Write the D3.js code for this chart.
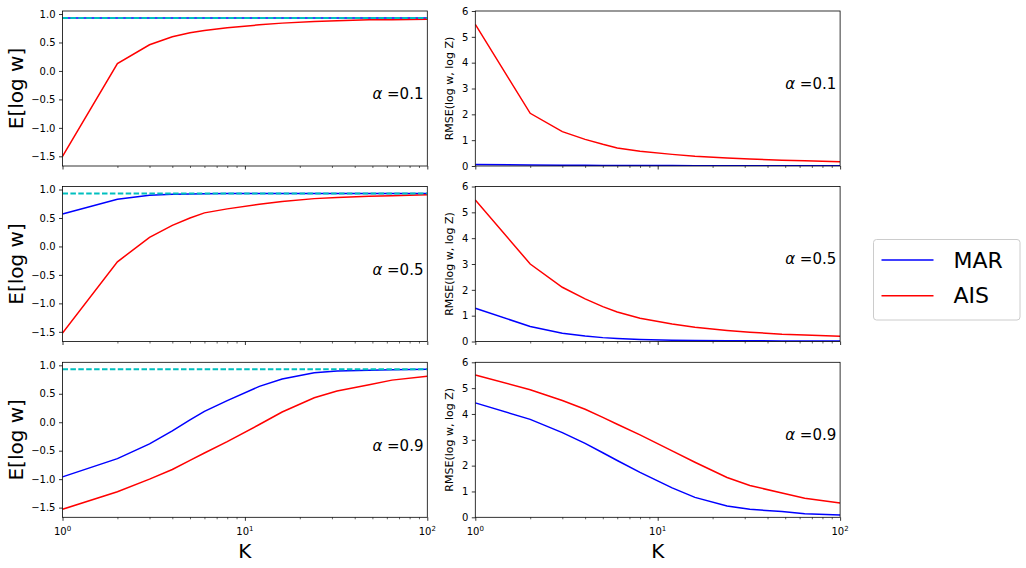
<!DOCTYPE html>
<html>
<head>
<meta charset="utf-8">
<script src="https://cdn.jsdelivr.net/npm/d3@7"></script>
<style>
  body { margin: 0; background: #fff; }
  text { font-family: "DejaVu Sans", sans-serif; }
</style>
</head>
<body>
<svg id="fig" width="1026" height="568"></svg>
<script>
const K = [1, 2, 3, 4, 5, 6, 8, 12, 16, 24, 32, 48, 64, 100];
const logZ = 0.93;
const alphas = ["0.1", "0.5", "0.9"];

// E[log w]
const marMean01 = [0.93, 0.93, 0.93, 0.93, 0.93, 0.93, 0.93, 0.93, 0.93, 0.93, 0.93, 0.93, 0.93, 0.93];
const aisMean01 = [-1.5, 0.13, 0.46, 0.6, 0.67, 0.71, 0.76, 0.81, 0.84, 0.87, 0.88, 0.9, 0.9, 0.91];
const marMean05 = [0.57, 0.83, 0.9, 0.915, 0.92, 0.925, 0.93, 0.93, 0.93, 0.93, 0.93, 0.93, 0.93, 0.93];
const aisMean05 = [-1.52, -0.27, 0.16, 0.37, 0.5, 0.59, 0.66, 0.74, 0.79, 0.84, 0.86, 0.88, 0.89, 0.91];
const marMean09 = [-0.96, -0.64, -0.38, -0.15, 0.04, 0.19, 0.38, 0.63, 0.76, 0.87, 0.9, 0.915, 0.92, 0.93];
const aisMean09 = [-1.53, -1.22, -1.0, -0.83, -0.67, -0.54, -0.34, -0.04, 0.18, 0.43, 0.55, 0.66, 0.74, 0.81];

// RMSE(log w, log Z)
const marRmse01 = [0.06, 0.04, 0.03, 0.03, 0.02, 0.02, 0.02, 0.02, 0.01, 0.01, 0.01, 0.01, 0.01, 0.01];
const aisRmse01 = [5.48, 2.04, 1.33, 1.03, 0.84, 0.7, 0.57, 0.45, 0.38, 0.31, 0.27, 0.22, 0.2, 0.16];
const marRmse05 = [1.29, 0.58, 0.32, 0.21, 0.15, 0.12, 0.08, 0.05, 0.04, 0.03, 0.03, 0.02, 0.02, 0.02];
const aisRmse05 = [5.48, 3.0, 2.1, 1.65, 1.35, 1.14, 0.9, 0.68, 0.55, 0.43, 0.36, 0.28, 0.25, 0.2];
const marRmse09 = [4.43, 3.79, 3.28, 2.86, 2.5, 2.2, 1.74, 1.14, 0.77, 0.44, 0.31, 0.22, 0.14, 0.09];
const aisRmse09 = [5.51, 4.94, 4.52, 4.18, 3.87, 3.6, 3.19, 2.57, 2.13, 1.54, 1.23, 0.94, 0.74, 0.55];

const meanTicks = [1.0, 0.5, 0.0, -0.5, -1.0, -1.5];
const rmseTicks = [0, 1, 2, 3, 4, 5, 6];
const xMajor = [1, 10, 100];
const xMinor = [2, 3, 4, 5, 6, 7, 8, 9, 20, 30, 40, 50, 60, 70, 80, 90];

const meanRows = [[marMean01, aisMean01], [marMean05, aisMean05], [marMean09, aisMean09]];
const rmseRows = [[marRmse01, aisRmse01], [marRmse05, aisRmse05], [marRmse09, aisRmse09]];

const svg = d3.select("#fig");
const rowTop = [11, 186.5, 362.3];
const panelH = 155;
const colLeft = [62.5, 475.3];
const panelW = 364.8;

const BLUE = "#0000ff", RED = "#ff0000", CYAN = "#00bfbf";

function fmtMinus(v) {
  return d3.format(".1f")(v).replace("-", "\u2212");
}

function drawPanel(row, col) {
  const x0 = colLeft[col], y0 = rowTop[row];
  const g = svg.append("g").attr("transform", `translate(${x0},${y0})`);
  const x = d3.scaleLog().domain([1, 100]).range([0, panelW]);
  const y = col === 0
    ? d3.scaleLinear().domain([-1.67, 1.053]).range([panelH, 0])
    : d3.scaleLinear().domain([0, 6]).range([panelH, 0]);
  const series = col === 0 ? meanRows[row] : rmseRows[row];

  const clipId = `clip${row}${col}`;
  g.append("clipPath").attr("id", clipId)
    .append("rect").attr("width", panelW).attr("height", panelH);
  const plot = g.append("g").attr("clip-path", `url(#${clipId})`);

  const line = d3.line().x((d, i) => x(K[i])).y(d => y(d));
  plot.append("path").datum(series[0]).attr("d", line)
    .attr("fill", "none").attr("stroke", BLUE).attr("stroke-width", 1.5);
  plot.append("path").datum(series[1]).attr("d", line)
    .attr("fill", "none").attr("stroke", RED).attr("stroke-width", 1.5);
  if (col === 0) {
    plot.append("path").datum([1, 100])
      .attr("d", d3.line().x(d => x(d)).y(() => y(logZ)))
      .attr("fill", "none").attr("stroke", CYAN).attr("stroke-width", 2)
      .attr("stroke-dasharray", "5.5,2.4");
  }

  // frame
  g.append("rect").attr("width", panelW).attr("height", panelH)
    .attr("fill", "none").attr("stroke", "#000").attr("stroke-width", 0.8);

  // y axis
  const yAxis = d3.axisLeft(y).tickValues(col === 0 ? meanTicks : rmseTicks)
    .tickSize(3.5).tickPadding(3.5)
    .tickFormat(col === 0 ? fmtMinus : d3.format("d"));
  const ya = g.append("g").call(yAxis);
  ya.select(".domain").remove();
  ya.selectAll("line").attr("stroke-width", 0.8);
  ya.selectAll("text").attr("font-size", 10).attr("fill", "#000")
    .attr("font-family", "DejaVu Sans");

  // x axis
  const xa = g.append("g").attr("transform", `translate(0,${panelH})`)
    .call(d3.axisBottom(x).tickValues(xMajor).tickSize(3.5).tickFormat(""));
  xa.select(".domain").remove();
  xa.selectAll("line").attr("stroke-width", 0.8);
  const xm = g.append("g").attr("transform", `translate(0,${panelH})`)
    .call(d3.axisBottom(x).tickValues(xMinor).tickSize(2).tickFormat(""));
  xm.select(".domain").remove();
  xm.selectAll("line").attr("stroke-width", 0.6);

  if (row === 2) {
    xMajor.forEach(v => {
      const t = g.append("text").attr("x", x(v)).attr("y", panelH + 18)
        .attr("text-anchor", "middle").attr("font-size", 10).attr("fill", "#000");
      t.append("tspan").text("10");
      t.append("tspan").attr("dy", -4.5).attr("font-size", 7).text(Math.round(Math.log10(v)));
    });
    g.append("text").attr("x", panelW / 2).attr("y", panelH + 41)
      .attr("text-anchor", "middle").attr("font-size", 20).text("K");
  }

  // alpha annotation
  const at = g.append("text").attr("x", x(50))
    .attr("y", col === 0 ? y(-0.5) : y(3))
    .attr("font-size", 15).attr("fill", "#000");
  at.append("tspan").attr("font-style", "italic").text("\u03b1");
  at.append("tspan").text(" =" + alphas[row]);

  // y label
  if (col === 0) {
    g.append("text").attr("transform", `translate(${-47},${panelH / 2}) rotate(-90)`)
      .attr("text-anchor", "middle").attr("dy", "0.35em")
      .attr("font-size", 20).text("E[log w]");
  } else {
    g.append("text").attr("transform", `translate(${-26},${panelH / 2}) rotate(-90)`)
      .attr("text-anchor", "middle").attr("dy", "0.35em")
      .attr("font-size", 11).text("RMSE(log w, log Z)");
  }
}

for (let r = 0; r < 3; r++) {
  drawPanel(r, 0);
  drawPanel(r, 1);
}

// legend
const legendNames = ["MAR", "AIS"];
const legendColors = [BLUE, RED];
const lg = svg.append("g").attr("transform", "translate(873.5,239.5)");
lg.append("rect").attr("width", 146.5).attr("height", 80.5).attr("rx", 3)
  .attr("fill", "#fff").attr("fill-opacity", 0.8)
  .attr("stroke", "#cccccc").attr("stroke-width", 1);
legendNames.forEach((n, i) => {
  const yy = 20.5 + i * 35.7;
  lg.append("line").attr("x1", 8).attr("x2", 60).attr("y1", yy).attr("y2", yy)
    .attr("stroke", legendColors[i]).attr("stroke-width", 1.5);
  lg.append("text").attr("x", 80).attr("y", yy).attr("dy", "0.35em")
    .attr("font-size", 22).attr("fill", "#000").text(n);
});
</script>
</body>
</html>
